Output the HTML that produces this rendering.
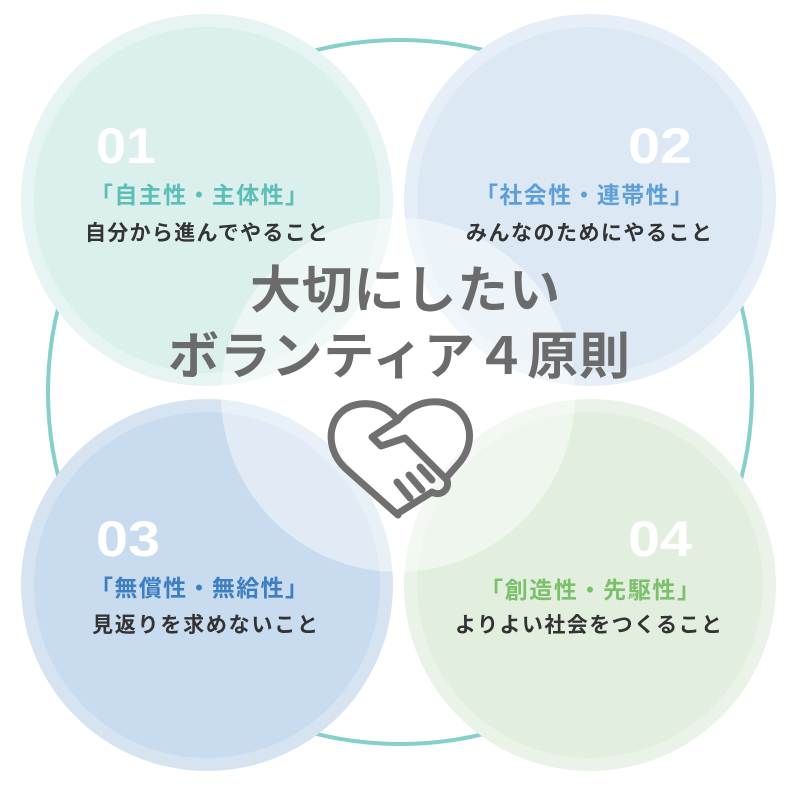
<!DOCTYPE html>
<html><head><meta charset="utf-8"><style>
html,body{margin:0;padding:0;background:#fff}
svg{display:block}
text{font-family:"Liberation Sans","Noto Sans CJK JP",sans-serif;font-weight:bold}
</style></head><body>
<svg width="800" height="785" viewBox="0 0 800 785">
<circle cx="400" cy="392" r="352" fill="none" stroke="#86cfcb" stroke-width="4"/>
<circle cx="207" cy="200" r="186" fill="#e6f4f3"/>
<circle cx="207" cy="200" r="173" fill="#dbefed"/>
<circle cx="590" cy="200" r="186" fill="#e6eff8"/>
<circle cx="590" cy="200" r="173" fill="#dce9f5"/>
<circle cx="207" cy="585" r="186" fill="#d6e4f2"/>
<circle cx="207" cy="585" r="173" fill="#c9dbee"/>
<circle cx="590" cy="585" r="186" fill="#eaf3e7"/>
<circle cx="590" cy="585" r="173" fill="#e2efdf"/>
<circle cx="398" cy="395" r="177" fill="#fff" fill-opacity="0.45"/>
<g fill="#fff" font-size="50" style="font-weight:normal">
<text x="96" y="163" textLength="60" lengthAdjust="spacingAndGlyphs">01</text>
<text x="628" y="163" textLength="64" lengthAdjust="spacingAndGlyphs">02</text>
<text x="96" y="556" textLength="64" lengthAdjust="spacingAndGlyphs">03</text>
<text x="628" y="556" textLength="64" lengthAdjust="spacingAndGlyphs">04</text>
</g>
<g font-size="23">
<text x="90" y="203" textLength="218" fill="#5bbfb7">「自主性・主体性」</text>
<text x="475" y="203" textLength="218" fill="#5d9fd6">「社会性・連帯性」</text>
<text x="90" y="596" textLength="218" fill="#3d7fc2">「無償性・無給性」</text>
<text x="480" y="598" textLength="220" fill="#7cc06c">「創造性・先駆性」</text>
</g>
<g font-size="21" fill="#333">
<text x="85" y="240" textLength="243">自分から進んでやること</text>
<text x="466" y="240" textLength="246">みんなのためにやること</text>
<text x="92" y="632" textLength="226">見返りを求めないこと</text>
<text x="455" y="632" textLength="267">よりよい社会をつくること</text>
</g>
<g fill="#6b6b6b">
<text x="250" y="308" font-size="51" textLength="310">大切にしたい</text>
<text x="168" y="374" font-size="51" textLength="462">ボランティア４原則</text>
</g>
<g fill="none" stroke="#707070" stroke-width="7" stroke-linejoin="round" stroke-linecap="round">
<path d="M398 515 L345 468 C322 446 328 408 360 404 C378 402 390 410 398 420 C406 410 420 400 440 402 C470 406 478 440 460 462 L446 478"/>
<path d="M398 420 L372 437 L381 446 L405 438 L447 480 C450 490 440 497 432 492 L400 512"/>
<path d="M420 467 L432 480 M409 475 L422 490 M397 482 L410 498"/>
</g>
</svg>
</body></html>
